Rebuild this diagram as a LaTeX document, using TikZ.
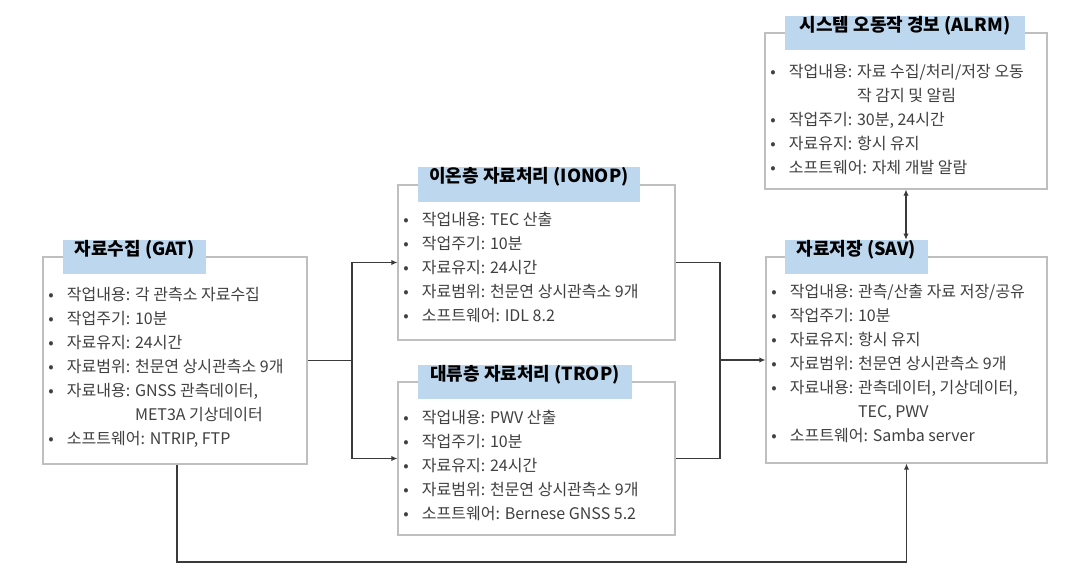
\documentclass[tikz,border=0pt]{standalone}
\usepackage{fontspec}
\newfontfamily\kr{Noto Sans CJK KR}
\usetikzlibrary{fit,arrows.meta}
\definecolor{boxgray}{HTML}{BFBFBF}
\definecolor{titlefill}{HTML}{BDD7EE}
\definecolor{txt}{HTML}{404040}
\definecolor{linec}{HTML}{3A3A3A}
\newcommand\bl{\makebox[14pt][l]{•}}
\newcommand\cont[1]{\makebox[14pt][l]{}\phantom{#1}}
\begin{document}
\begin{tikzpicture}[x=0.75pt,y=-0.75pt,
  box/.style={draw=boxgray, line width=0.8pt, fill=white, inner sep=0pt},
  ttl/.style={fill=titlefill, inner sep=0pt, font=\kr\bfseries\fontsize{13.5}{16}\selectfont, text=black},
  body/.style={anchor=base west, align=left, inner sep=0pt, text=txt, font=\kr\fontsize{12}{18}\selectfont},
  conn/.style={draw=linec, line width=1.1pt},
  arr/.style={conn, -{Latex[length=4.5pt,width=4pt]}},
  darr/.style={conn, {Latex[length=4.5pt,width=4pt]}-{Latex[length=4.5pt,width=4pt]}},
]
\useasboundingbox[fill=white] (0,0) rectangle (1072,573);

% boxes
\node[box, fit={(43,257) (307,464)}] (gat) {};
\node[box, fit={(398,185) (675,340)}] (ionop) {};
\node[box, fit={(398,382) (675,535)}] (trop) {};
\node[box, fit={(765,33) (1047,189)}] (alrm) {};
\node[box, fit={(766,257) (1047,463)}] (sav) {};

% titles
\node[ttl, fit={(63,240) (206,274)}] (gatT) {자료수집 (GAT)};
\node[ttl, fit={(418,167) (640,202)}] (ionopT) {이온층 자료처리 (IONOP)};
\node[ttl, fit={(418,365) (632,399)}] (tropT) {대류층 자료처리 (TROP)};
\node[ttl, fit={(785,16) (1025,50)}] (alrmT) {시스템 오동작 경보 (ALRM)};
\node[ttl, fit={(785,240) (928,274)}] (savT) {자료저장 (SAV)};

% body texts (anchored at the baseline of the last line)
\node[body] (gatB) at (48,445) {\bl 작업내용: 각 관측소 자료수집\\
\bl 작업주기: 10분\\
\bl 자료유지: 24시간\\
\bl 자료범위: 천문연 상시관측소 9개\\
\bl 자료내용: GNSS 관측데이터,\\
\cont{자료내용: }MET3A 기상데이터\\
\bl 소프트웨어: NTRIP, FTP};

\node[body] (ionopB) at (403,322) {\bl 작업내용: TEC 산출\\
\bl 작업주기: 10분\\
\bl 자료유지: 24시간\\
\bl 자료범위: 천문연 상시관측소 9개\\
\bl 소프트웨어: IDL 8.2};

\node[body] (tropB) at (403,520) {\bl 작업내용: PWV 산출\\
\bl 작업주기: 10분\\
\bl 자료유지: 24시간\\
\bl 자료범위: 천문연 상시관측소 9개\\
\bl 소프트웨어: Bernese GNSS 5.2};

\node[body] (alrmB) at (770,174) {\bl 작업내용: 자료 수집/처리/저장 오동\\
\cont{작업내용: }작 감지 및 알림\\
\bl 작업주기: 30분, 24시간\\
\bl 자료유지: 항시 유지\\
\bl 소프트웨어: 자체 개발 알람};

\node[body] (savB) at (771,442) {\bl 작업내용: 관측/산출 자료 저장/공유\\
\bl 작업주기: 10분\\
\bl 자료유지: 항시 유지\\
\bl 자료범위: 천문연 상시관측소 9개\\
\bl 자료내용: 관측데이터, 기상데이터,\\
\cont{자료내용: }TEC, PWV\\
\bl 소프트웨어: Samba server};

% connectors
\coordinate (j1) at (352,360.5);
\coordinate (j2) at (720,360);
\coordinate (b1) at (177,562);

\draw[conn] (gat.east) -- (j1);
\draw[arr] (j1) |- (ionop.west);
\draw[arr] (j1) |- (trop.west);
\draw[conn] (ionop.east) -| (j2);
\draw[conn] (trop.east) -| (j2);
\draw[arr] (j2) -- (sav.west);
\draw[darr] (alrm.south) -- (alrm.south |- savT.north);
\draw[arr] (b1 |- gat.south) -- (b1) -| (sav.south);
\end{tikzpicture}
\end{document}
